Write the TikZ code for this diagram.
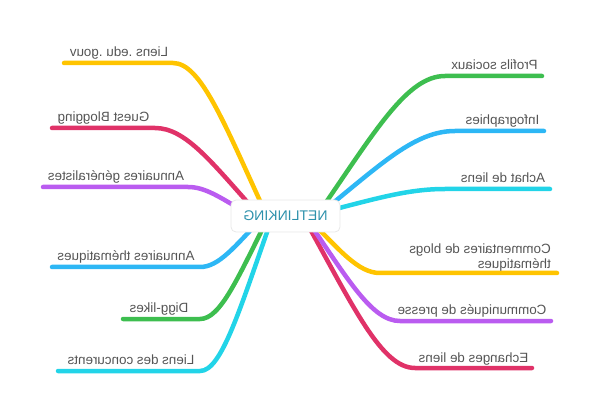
\documentclass[tikz,border=0pt]{standalone}
\usepackage{fontspec}
\setmainfont{Liberation Sans}
\definecolor{cyel}{RGB}{255,196,0}
\definecolor{cred}{RGB}{224,50,104}
\definecolor{cpur}{RGB}{186,92,240}
\definecolor{cblu}{RGB}{45,183,245}
\definecolor{cgrn}{RGB}{61,190,79}
\definecolor{ccya}{RGB}{34,212,232}
\definecolor{labelgray}{RGB}{85,85,85}
\definecolor{hubtext}{RGB}{45,145,172}
\definecolor{hubline}{RGB}{232,232,232}
\begin{document}
\begin{tikzpicture}[x=1pt,y=-1pt,
  branch/.style={line width=4.5pt, line cap=round},
  lbl/.style={text=labelgray, font=\fontsize{13.4}{15}\selectfont, inner sep=0pt, xscale=-1, anchor=base},
  hubbox/.style={fill=white, draw=hubline, line width=0.8pt, rounded corners=5pt,
    minimum width=109pt, minimum height=32pt, inner sep=0pt, xscale=-1,
    text=hubtext, font=\fontsize{14}{16}\selectfont}]
\useasboundingbox (0,0) rectangle (600,414);
% coordinates: far ends (e), bends (b), hub ends (s)
\coordinate (e1) at (64,63);   \coordinate (b1) at (173,63);  \coordinate (s1) at (266,214);
\coordinate (e2) at (52,128);  \coordinate (b2) at (155,128); \coordinate (s2) at (258,214);
\coordinate (e3) at (43,187);  \coordinate (b3) at (188,187); \coordinate (s3) at (245,212);
\coordinate (e4) at (52,267);  \coordinate (b4) at (200,267); \coordinate (s4) at (262,218);
\coordinate (e5) at (123,319); \coordinate (b5) at (200,319); \coordinate (s5) at (268,218);
\coordinate (e6) at (58,371);  \coordinate (b6) at (200,371); \coordinate (s6) at (272,218);
\coordinate (e7) at (542,76);  \coordinate (b7) at (445,76);  \coordinate (s7) at (318,214);
\coordinate (e8) at (544,131); \coordinate (b8) at (455,131); \coordinate (s8) at (322,212);
\coordinate (e9) at (550,189); \coordinate (b9) at (445,189); \coordinate (s9) at (320,213);
\coordinate (e10) at (557,273); \coordinate (b10) at (380,273); \coordinate (s10) at (308,218);
\coordinate (e11) at (551,321); \coordinate (b11) at (400,321); \coordinate (s11) at (306,218);
\coordinate (e12) at (532,368); \coordinate (b12) at (415,368); \coordinate (s12) at (304,218);
% branches
\draw[branch, cyel] (e1) -- (b1) .. controls (200.9,63) and (224.2,123.4) .. (s1);
\draw[branch, cred] (e2) -- (b2) .. controls (185.9,128) and (211.7,162.4) .. (s2);
\draw[branch, cpur] (e3) -- (b3) .. controls (205.1,187) and (219.4,197) .. (s3);
\draw[branch, cblu] (e4) -- (b4) .. controls (218.6,267) and (234.1,247.4) .. (s4);
\draw[branch, cgrn] (e5) -- (b5) .. controls (220.4,319) and (237.4,278.6) .. (s5);
\draw[branch, ccya] (e6) -- (b6) .. controls (221.6,371) and (239.6,309.8) .. (s6);
\draw[branch, cgrn] (e7) -- (b7) .. controls (406.9,76) and (375.2,131.2) .. (s7);
\draw[branch, cblu] (e8) -- (b8) .. controls (415.1,131) and (381.9,163.4) .. (s8);
\draw[branch, ccya] (e9) -- (b9) .. controls (407.5,189) and (376.3,198.6) .. (s9);
\draw[branch, cred] (e12) -- (b12) .. controls (381.7,368) and (354,308) .. (s12);
\draw[branch, cpur] (e11) -- (b11) .. controls (371.8,321) and (348.3,279.8) .. (s11);
\draw[branch, cyel] (e10) -- (b10) .. controls (358.4,273) and (340.4,251) .. (s10);
% hub
\node[hubbox] (hub) at (285.5,216) {NETLINKING};
% labels
\node[lbl] (l1) at (119,57) {Liens .edu .gouv};
\node[lbl] (l2) at (103.5,121.5) {Guest Blogging};
\node[lbl] (l3) at (116,180.5) {Annuaires généralistes};
\node[lbl] (l4) at (126,260.5) {Annuaires thématiques};
\node[lbl] (l5) at (159,312.5) {Digg-likes};
\node[lbl] (l6) at (131,364.5) {Liens des concurents};
\node[lbl] (l7) at (494.5,69.5) {Profils sociaux};
\node[lbl] (l8) at (502.5,124.5) {Infographies};
\node[lbl] (l9) at (503,182.5) {Achat de liens};
\node[lbl, anchor=south west, align=left] (l10) at (551,271) {Commentaires de blogs\\thématiques};
\node[lbl] (l11) at (472,314.5) {Communiqués de presse};
\node[lbl] (l12) at (473.5,362.5) {Echanges de liens};
\end{tikzpicture}
\end{document}
